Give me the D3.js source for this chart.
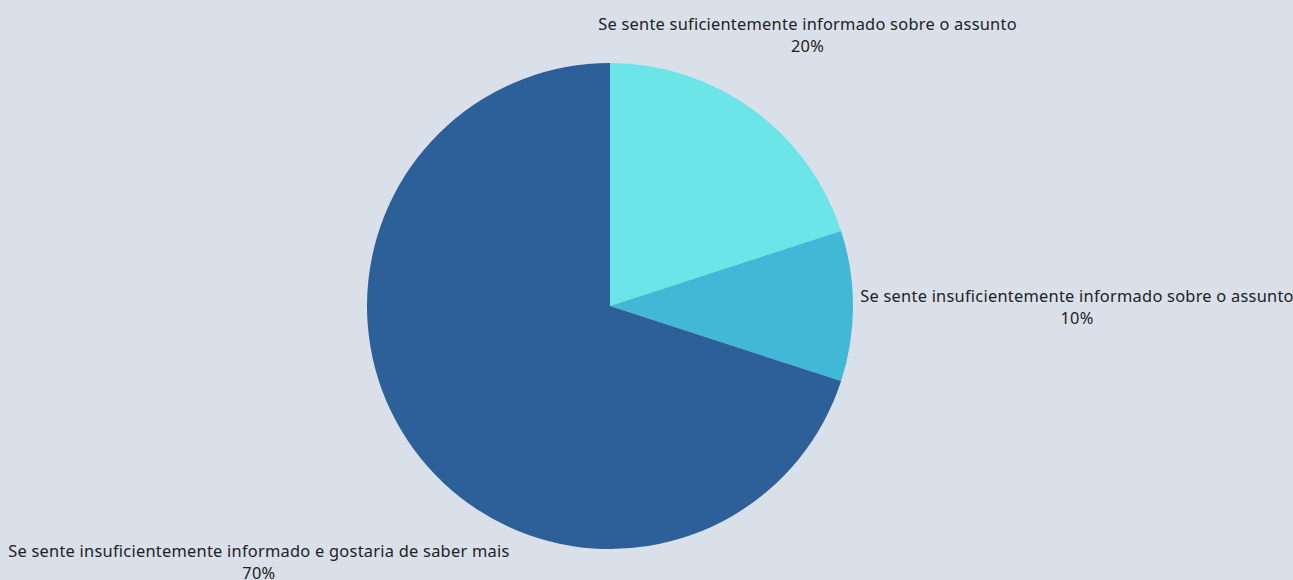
<!DOCTYPE html>
<html>
<head>
<meta charset="utf-8">
<script src="https://cdn.jsdelivr.net/npm/d3@7"></script>
<style>
  html, body { margin: 0; padding: 0; background: #d9e0ea; }
  svg { display: block; }
</style>
</head>
<body>
<svg id="chart"></svg>
<script>
const categories = [
    "Se sente suficientemente informado sobre o assunto",
    "Se sente insuficientemente informado sobre o assunto",
    "Se sente insuficientemente informado e gostaria de saber mais",
];
const values = [20, 10, 70];
const colors = ["#6ce5e8", "#41b8d5", "#2d5f99"];

const width = 1293;
const height = 580;
const cx = 610;
const cy = 306;
const radius = 243;
// distance of each label's centre from the pie centre
const labelDist = [336, 467, 434];

const data = categories.map((c, i) => ({ label: c, value: values[i], color: colors[i], dist: labelDist[i] }));

const svg = d3.select("#chart")
    .attr("width", width)
    .attr("height", height)
    .attr("viewBox", [0, 0, width, height])
    .style("font-family", "'Noto Sans', sans-serif")
    .style("font-size", "16.4px")
    .style("letter-spacing", "0.25px");

const pie = d3.pie()
    .sort(null)
    .value(d => d.value);

const arc = d3.arc()
    .innerRadius(0)
    .outerRadius(radius);

const arcs = pie(data);

const g = svg.append("g")
    .attr("transform", `translate(${cx},${cy})`);

g.selectAll("path")
    .data(arcs)
    .join("path")
    .attr("fill", d => d.data.color)
    .attr("d", arc);

const total = d3.sum(values);

const label = g.selectAll("text")
    .data(arcs)
    .join("text")
    .attr("text-anchor", "middle")
    .attr("fill", "#222")
    .attr("transform", d => {
        const a = (d.startAngle + d.endAngle) / 2;
        const x = Math.sin(a) * d.data.dist;
        const y = -Math.cos(a) * d.data.dist;
        return `translate(${x},${y})`;
    });

label.append("tspan")
    .attr("x", 0)
    .attr("y", -4)
    .text(d => d.data.label);

label.append("tspan")
    .attr("x", 0)
    .attr("y", 18)
    .text(d => `${Math.round(d.data.value / total * 100)}%`);
</script>
</body>
</html>
